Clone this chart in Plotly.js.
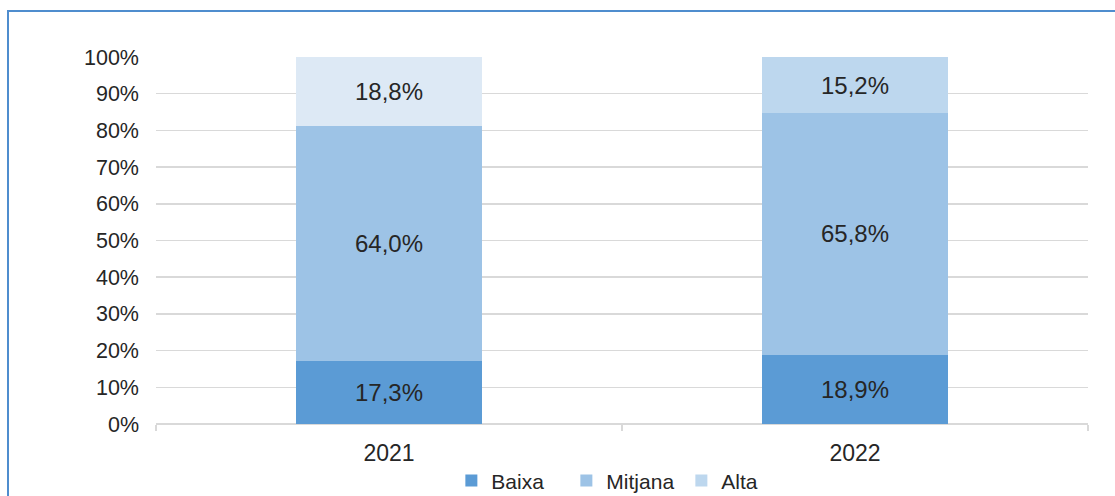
<!DOCTYPE html>
<html>
<head>
<meta charset="utf-8">
<script src="https://cdn.plot.ly/plotly-3.0.1.min.js"></script>
<style>
  html, body { margin:0; padding:0; background:#fff; }
  #wrap { position:relative; width:1115px; height:496px; overflow:hidden; }
  #chart { position:absolute; left:0; top:0; width:1115px; height:496px; }
  #frame { position:absolute; left:7px; top:10px; width:1200px; height:600px;
           border-left:2px solid #4f8dce; border-top:2px solid #4f8dce; pointer-events:none; }
</style>
</head>
<body>
<div id="wrap">
  <div id="chart"></div>
  <div id="frame"></div>
</div>
<script>
const years = ['2021', '2022'];
const baixa = [0.173, 0.189];
const mitjana = [0.640, 0.658];
const alta = [0.188, 0.152];
const seriesNames = ['Baixa', 'Mitjana', 'Alta'];

const labelFont = {family: 'Liberation Sans, Arial, sans-serif', size: 24, color: '#262626'};

function barTrace(name, vals, color, showlegend) {
  return {
    type: 'bar', name: name, x: years, y: vals,
    marker: {color: color, line: {width: 0}},
    text: vals, texttemplate: '%{y:.1%}', textposition: 'inside',
    insidetextanchor: 'middle', textangle: 0, constraintext: 'none',
    textfont: labelFont, hoverinfo: 'skip', showlegend: showlegend, legendgroup: name
  };
}

const data = [
  barTrace(seriesNames[0], baixa, '#5b9bd5', true),
  barTrace(seriesNames[1], mitjana, '#9dc3e6', true),
  barTrace(seriesNames[2], alta, ['#dde9f5', '#bdd7ee'], false),
  {type: 'bar', name: seriesNames[2], x: [years[0]], y: [null], marker: {color: '#bdd7ee'},
   showlegend: true, legendgroup: seriesNames[2], hoverinfo: 'skip'}
];

const layout = {
  width: 1115, height: 496,
  margin: {l: 156, r: 27, t: 57, b: 72, autoexpand: false},
  paper_bgcolor: '#ffffff', plot_bgcolor: '#ffffff',
  barmode: 'stack', bargap: 0.6,
  separators: ',.',
  font: {family: 'Liberation Sans, Arial, sans-serif', color: '#262626'},
  xaxis: {
    type: 'category', tickson: 'boundaries', ticks: 'outside', ticklen: 6, tickwidth: 1.5,
    tickcolor: '#d9d9d9', showline: false, showgrid: false, zeroline: false,
    tickfont: {size: 23, color: '#262626'}, ticklabelstandoff: 13, automargin: false
  },
  yaxis: {
    range: [0, 1], tickformat: '.0%', dtick: 0.1, tick0: 0,
    showgrid: true, gridcolor: '#d9d9d9', gridwidth: 1.5,
    zeroline: true, zerolinecolor: '#d9d9d9', zerolinewidth: 1.5,
    showline: false, ticks: '', tickfont: {size: 21.5, color: '#262626'},
    ticklabelstandoff: 16, fixedrange: true, automargin: false
  },
  legend: {
    orientation: 'h', x: 0.502, xanchor: 'center', y: -0.155, yanchor: 'middle',
    traceorder: 'normal', font: {size: 21, color: '#262626'}, bgcolor: 'rgba(0,0,0,0)',
    entrywidth: 70
  },
  showlegend: true
};

Plotly.newPlot('chart', data, layout, {displayModeBar: false, staticPlot: true});
</script>
</body>
</html>
